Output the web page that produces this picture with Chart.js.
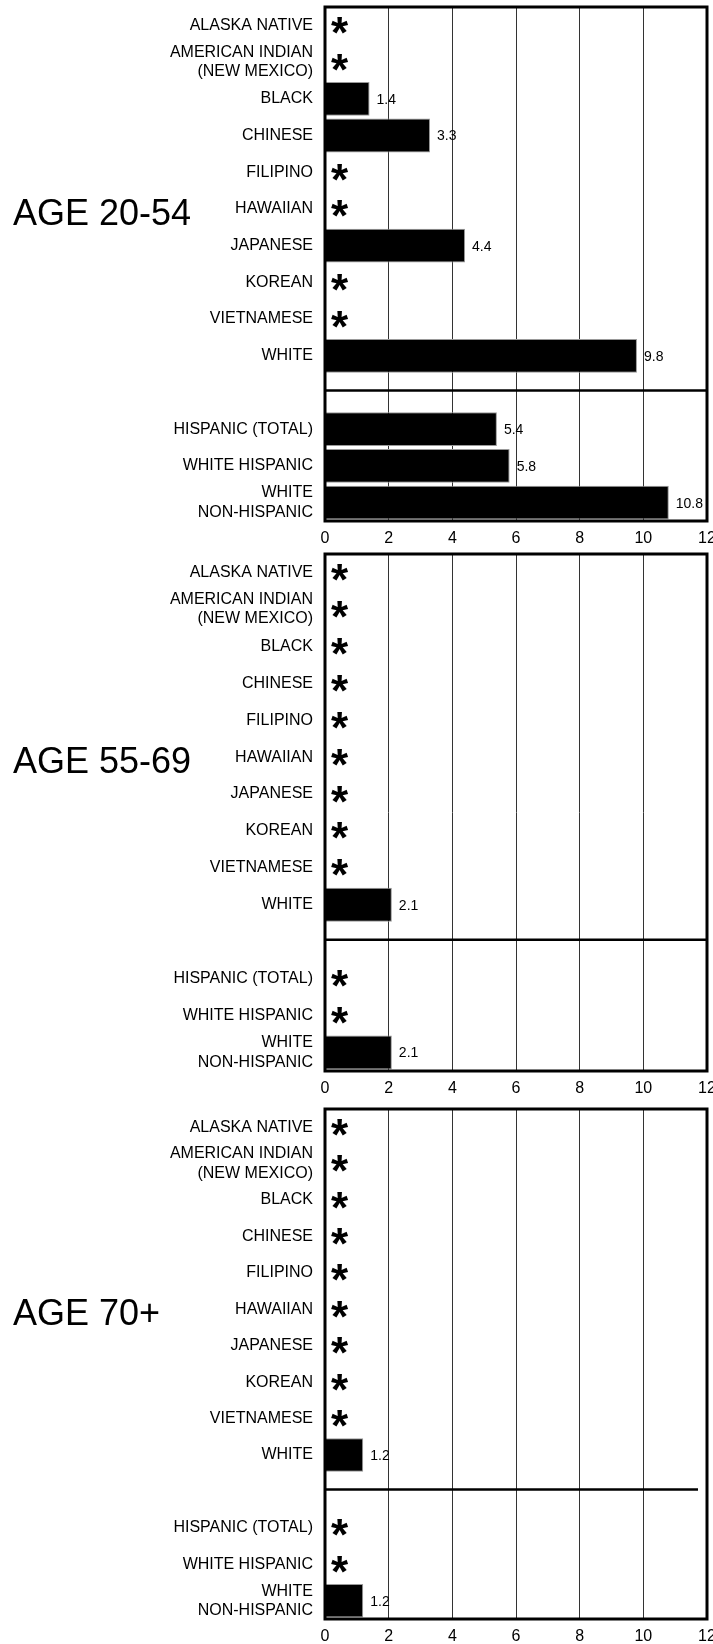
<!DOCTYPE html>
<html>
<head>
<meta charset="utf-8">
<script src="https://cdn.jsdelivr.net/npm/chart.js@4.4.0/dist/chart.umd.min.js"></script>
<style>
  html, body { margin: 0; padding: 0; background: #fff; }
  body { width: 713px; height: 1644px; position: relative; overflow: hidden; }
  canvas { position: absolute; left: 0; }
</style>
</head>
<body>
<canvas id="panel1" width="713" height="545" style="top:0px"></canvas>
<canvas id="panel2" width="713" height="548" style="top:547px"></canvas>
<canvas id="panel3" width="713" height="541" style="top:1102px"></canvas>
<script>
// groups ('' = empty slot where the divider sits)
const groups = [
    'ALASKA NATIVE',
    ['AMERICAN INDIAN', '(NEW MEXICO)'],
    'BLACK',
    'CHINESE',
    'FILIPINO',
    'HAWAIIAN',
    'JAPANESE',
    'KOREAN',
    'VIETNAMESE',
    'WHITE',
    '',
    'HISPANIC (TOTAL)',
    'WHITE HISPANIC',
    ['WHITE', 'NON-HISPANIC']
];

// null = suppressed (shown as *)
const age2054 = [null, null, 1.4, 3.3, null, null, 4.4, null, null, 9.8, null, 5.4, 5.8, 10.8];
const age5569 = [null, null, null, null, null, null, null, null, null, 2.1, null, null, null, 2.1];
const age70 = [null, null, null, null, null, null, null, null, null, 1.2, null, null, null, 1.2];

const ageTitles = ['AGE 20-54', 'AGE 55-69', 'AGE 70+'];
const xTicks = [0, 2, 4, 6, 8, 10, 12];

const FONT = "'Liberation Sans', Arial, Helvetica, sans-serif";
Chart.defaults.font.family = FONT;
Chart.defaults.color = '#000';

const panelDecor = {
    id: 'panelDecor',
    afterDatasetsDraw(chart, args, opts) {
        const { ctx, chartArea: a } = chart;
        const x = chart.scales.x, y = chart.scales.y;
        const values = chart.data.datasets[0].data;
        const labels = chart.data.labels;
        ctx.save();
        ctx.strokeStyle = '#000';
        ctx.fillStyle = '#000';

        // divider between the race groups and the hispanic groups
        const blank = labels.indexOf('');
        const yDiv = y.getPixelForValue(blank) - 2;
        ctx.lineWidth = 2.5;
        ctx.beginPath();
        ctx.moveTo(a.left, yDiv);
        ctx.lineTo(a.right - opts.dividerInset, yDiv);
        ctx.stroke();

        // frame
        ctx.lineWidth = 3;
        ctx.strokeRect(a.left, a.top, a.right - a.left, a.bottom - a.top);

        values.forEach((v, i) => {
            const cy = y.getPixelForValue(i);
            if (v === null) {
                if (labels[i] === '') return;
                ctx.font = 'bold 44px ' + FONT;
                ctx.textAlign = 'left';
                ctx.textBaseline = 'alphabetic';
                const m = ctx.measureText('*');
                const cx = a.left + 15;
                const bx = cx - (m.actualBoundingBoxRight - m.actualBoundingBoxLeft) / 2;
                const by = cy + (m.actualBoundingBoxAscent - m.actualBoundingBoxDescent) / 2;
                ctx.fillText('*', bx, by);
            } else {
                ctx.font = '14px ' + FONT;
                ctx.textAlign = 'left';
                ctx.textBaseline = 'middle';
                ctx.fillText(v.toFixed(1), x.getPixelForValue(v) + 7, cy + 1);
            }
        });

        // big age label, level with the HAWAIIAN row
        ctx.font = '36px ' + FONT;
        ctx.textAlign = 'left';
        ctx.textBaseline = 'alphabetic';
        const tm = ctx.measureText(opts.title);
        const ty = y.getPixelForValue(groups.indexOf('HAWAIIAN')) + 3;
        ctx.fillText(opts.title, 13, ty + (tm.actualBoundingBoxAscent - tm.actualBoundingBoxDescent) / 2);
        ctx.restore();
    }
};

function makePanel(id, values, title, dividerInset) {
    return new Chart(document.getElementById(id), {
        type: 'bar',
        data: {
            labels: groups,
            datasets: [{
                data: values,
                backgroundColor: '#000',
                borderColor: '#999',
                borderWidth: 1,
                barPercentage: 0.92,
                categoryPercentage: 1
            }]
        },
        options: {
            indexAxis: 'y',
            responsive: false,
            animation: false,
            devicePixelRatio: 1,
            layout: { padding: { top: 7, right: 6, left: 0, bottom: 0 } },
            plugins: {
                legend: { display: false },
                tooltip: { enabled: false },
                panelDecor: { title: title, dividerInset: dividerInset }
            },
            scales: {
                x: {
                    type: 'linear',
                    min: 0,
                    max: 12,
                    afterBuildTicks: s => { s.ticks = xTicks.map(v => ({ value: v })); },
                    ticks: { font: { size: 16 }, color: '#000', padding: 8 },
                    grid: { color: '#333', lineWidth: 1, drawTicks: false },
                    border: { display: false },
                    afterFit: s => { s.height = 24; s.paddingLeft = 0; s.paddingRight = 0; }
                },
                y: {
                    grid: { display: false, drawTicks: false },
                    border: { display: false },
                    ticks: { font: { size: 16, lineHeight: 1.2 }, color: '#000', padding: 12, autoSkip: false },
                    afterFit: s => { s.width = 325; s.paddingTop = 0; s.paddingBottom = 0; }
                }
            }
        },
        plugins: [panelDecor]
    });
}

makePanel('panel1', age2054, ageTitles[0], 0);
makePanel('panel2', age5569, ageTitles[1], 0);
makePanel('panel3', age70, ageTitles[2], 9);
</script>
</body>
</html>
